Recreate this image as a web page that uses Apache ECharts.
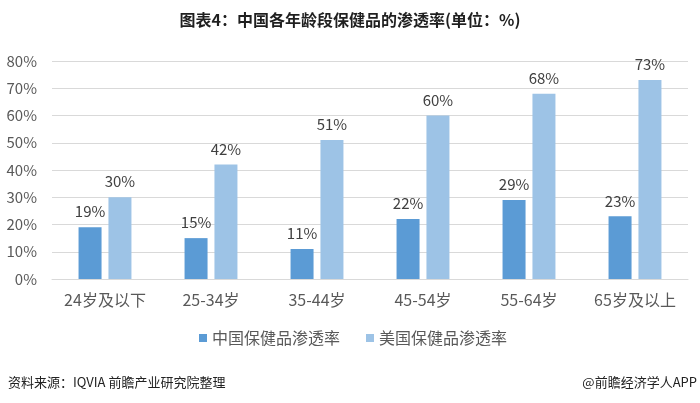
<!DOCTYPE html>
<html><head><meta charset="utf-8">
<script src="https://cdn.jsdelivr.net/npm/echarts@6/dist/echarts.min.js"></script>
<style>html,body{margin:0;padding:0;background:#fff}#c{width:700px;height:403px}</style>
</head><body><div id="c"></div>
<script>
const categories = ['24岁及以下','25-34岁','35-44岁','45-54岁','55-64岁','65岁及以上'];
const chinaValues = [19, 15, 11, 22, 29, 23];
const usValues = [30, 42, 51, 60, 68, 73];
const seriesNames = ['中国保健品渗透率','美国保健品渗透率'];
const yTicks = {min: 0, max: 80, interval: 10};

const font = '"Noto Sans CJK SC", "Noto Sans", sans-serif';
const chart = echarts.init(document.getElementById('c'));
chart.setOption({
  backgroundColor: '#fff',
  animation: false,
  textStyle: {fontFamily: font},
  title: [{
    text: '图表4：中国各年龄段保健品的渗透率(单位：%)',
    left: 'center', top: 12, padding: 0,
    textStyle: {fontSize: 16, fontWeight: 'bold', color: '#1f1f1f', fontFamily: font}
  },{
    text: '资料来源：IQVIA 前瞻产业研究院整理',
    left: 8, top: 376, padding: 0,
    textStyle: {fontSize: 13, fontWeight: 'normal', color: '#222', fontFamily: font}
  },{
    text: '@前瞻经济学人APP',
    right: 3, top: 376, padding: 0,
    textStyle: {fontSize: 13, fontWeight: 'normal', color: '#222', fontFamily: font}
  }],
  legend: {
    data: seriesNames,
    left: 199, top: 330, padding: 0,
    itemWidth: 8, itemHeight: 8, itemGap: 26,
    icon: 'rect',
    textStyle: {fontSize: 16, color: '#595959', fontFamily: font}
  },
  grid: {left: 52, right: 12, top: 61, bottom: 124},
  xAxis: {
    type: 'category', data: categories,
    axisLine: {lineStyle: {color: '#d9d9d9'}},
    axisTick: {show: false},
    axisLabel: {fontSize: 16, color: '#595959', margin: 13, interval: 0}
  },
  yAxis: {
    type: 'value', min: yTicks.min, max: yTicks.max, interval: yTicks.interval,
    axisLabel: {formatter: '{value}%', fontSize: 15, color: '#595959', margin: 15},
    splitLine: {lineStyle: {color: '#d9d9d9'}},
    axisLine: {show: false}, axisTick: {show: false}
  },
  series: [{
    name: seriesNames[0], type: 'bar', data: chinaValues,
    barWidth: 23, barGap: '30%',
    itemStyle: {color: '#5B9BD5'},
    label: {show: true, position: 'top', formatter: '{c}%', fontSize: 15, color: '#404040', distance: 8}
  },{
    name: seriesNames[1], type: 'bar', data: usValues,
    barWidth: 23,
    itemStyle: {color: '#9DC3E6'},
    label: {show: true, position: 'top', formatter: '{c}%', fontSize: 15, color: '#404040', distance: 8}
  }]
});
</script></body></html>
